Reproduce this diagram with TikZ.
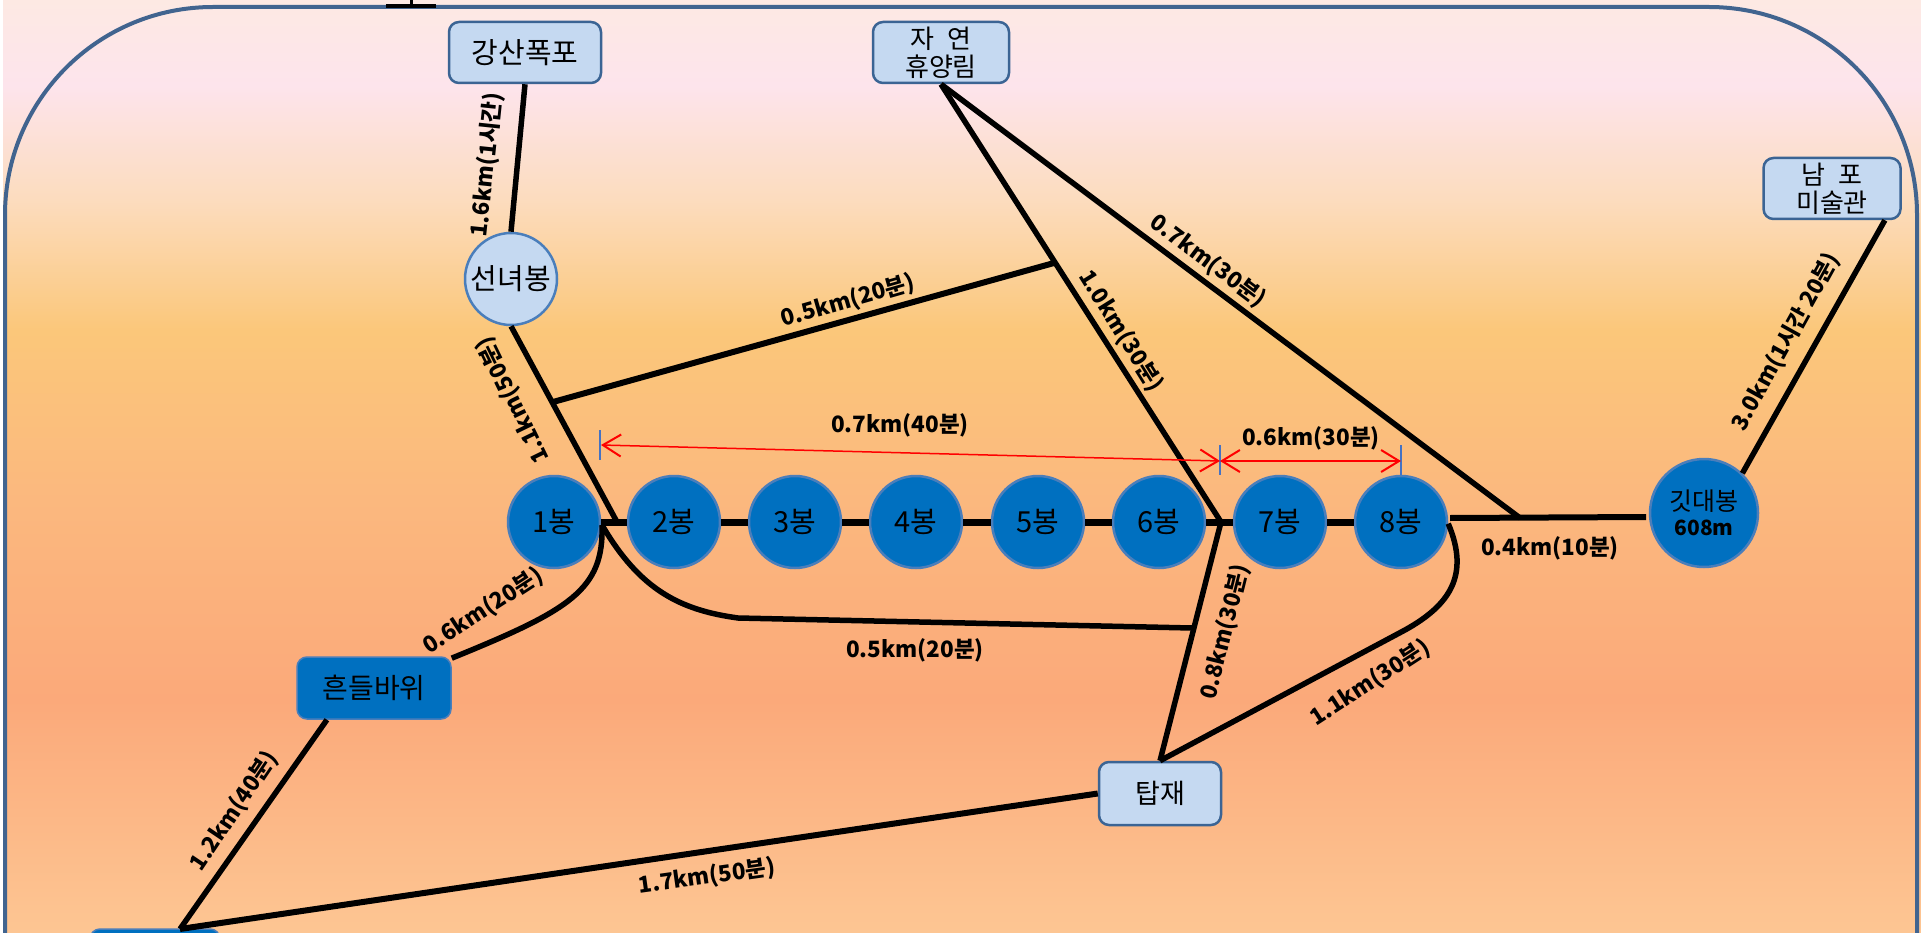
\documentclass[tikz,border=0pt]{standalone}
\usepackage{fontspec}
\setmainfont{Noto Sans CJK KR}
\usetikzlibrary{arrows.meta}

\definecolor{framecol}{HTML}{41648F}
\definecolor{lightcol}{HTML}{C5D9F1}
\definecolor{boxline}{HTML}{3B6494}
\definecolor{darkcol}{HTML}{0070C0}
\definecolor{ringcol}{HTML}{4A7EBB}
\definecolor{tickcol}{HTML}{4472C4}
\definecolor{bgA}{RGB}{253,198,147}
\definecolor{bgB}{RGB}{251,169,122}
\definecolor{bgC}{RGB}{251,184,126}
\definecolor{bgD}{RGB}{251,199,122}
\definecolor{bgE}{RGB}{252,220,190}
\definecolor{bgF}{RGB}{253,228,236}
\definecolor{bgG}{RGB}{253,233,227}

\pgfdeclareverticalshading{bgfade}{100bp}{
    color(0bp)=(bgA);
    color(25bp)=(bgA);
    color(37.5bp)=(bgB);
    color(48.2bp)=(bgC);
    color(57.3bp)=(bgD);
    color(64.3bp)=(bgE);
    color(70.4bp)=(bgF);
    color(75bp)=(bgG);
    color(100bp)=(bgG)}

\tikzset{
    peak/.style={circle,draw=ringcol,line width=2.5pt,fill=darkcol,minimum size=92pt,inner sep=0pt,align=center,font=\fontsize{29}{32}\selectfont},
    lightbox/.style={rectangle,rounded corners=10pt,draw=boxline,line width=2.5pt,fill=lightcol,inner sep=0pt,align=center,font=\fontsize{26}{28}\selectfont},
    darkbox/.style={rectangle,rounded corners=10pt,draw=ringcol,line width=1.5pt,fill=darkcol,inner sep=0pt,align=center,font=\fontsize{28}{30}\selectfont},
    distlabel/.style={font=\bfseries\fontsize{22.5}{26}\selectfont,inner sep=0pt},
    trail/.style={line width=5.5pt,black},
    redspan/.style={red,line width=2pt,<->,>={Straight Barb[length=18pt,width=22pt,line width=2pt]}},
    spantick/.style={tickcol,line width=1.5pt}
}

\begin{document}
\begin{tikzpicture}[x=1pt,y=-1pt]
    \useasboundingbox (0,0) rectangle (1921,933);
    \clip (0,0) rectangle (1921,933);
    \fill[white] (0,0) rectangle (1921,933);
    \shade[shading=bgfade] (3,0) rectangle (1921,933);
    \draw[framecol,line width=4pt,rounded corners=208pt] (5,1300) -- (5,7) -- (1917,7) -- (1917,1300);
    \draw[black,line width=4pt] (386,6) -- (436,6);
    \draw[black,line width=3pt] (411,0) -- (411,6);

    \node[lightbox,minimum width=152pt,minimum height=61pt,font=\fontsize{29}{32}\selectfont] (gangsan) at (525,52.5) {강산폭포};
    \node[lightbox,minimum width=136pt,minimum height=61pt] (jayeon) at (941,52.5) {자\hspace{0.5em}연\\휴양림};
    \node[lightbox,minimum width=137pt,minimum height=61pt] (nampo) at (1832,188.5) {남\hspace{0.5em}포\\미술관};
    \node[lightbox,minimum width=122pt,minimum height=63pt,font=\fontsize{27}{30}\selectfont] (tapjae) at (1160,793.5) {탑재};
    \node[darkbox,minimum width=154pt,minimum height=62pt] (heundeul) at (374,688) {흔들바위};
    \node[darkbox,minimum width=130pt,minimum height=60pt] (bottombox) at (155,959) {};
    \node[peak,fill=lightcol,font=\fontsize{29}{32}\selectfont] (seonnyeo) at (511,279) {선녀봉};

    \node[peak] (p1) at (554,522) {1봉};
    \node[peak] (p2) at (674,522) {2봉};
    \node[peak] (p3) at (795,522) {3봉};
    \node[peak] (p4) at (916,522) {4봉};
    \node[peak] (p5) at (1038,522) {5봉};
    \node[peak] (p6) at (1159,522) {6봉};
    \node[peak] (p7) at (1280,522) {7봉};
    \node[peak] (p8) at (1401,522) {8봉};
    \node[peak,minimum size=108pt,font=\fontsize{25}{26}\selectfont] (gitdae) at (1704,513) {깃대봉\\[-1pt]{\bfseries\fontsize{21}{24}\selectfont 608m}};

    \coordinate (j1) at (617,522);
    \coordinate (j1c) at (602,525);
    \coordinate (j6) at (1221,522);
    \coordinate (j8) at (1520,518);
    \coordinate (j8w) at (1450,518);
    \coordinate (j8e) at (1646,517);
    \coordinate (jb) at (180,929);
    \coordinate (b1) at (553,402);
    \coordinate (b2) at (1054,263);
    \coordinate (b3) at (738,618);
    \coordinate (b4) at (1192,628);

    \draw[trail] (gangsan.south) -- (seonnyeo.north);
    \draw[trail] (seonnyeo.-90) -- (j1);
    \draw[trail,line width=6pt] (b1) -- (b2);
    \draw[trail] (jayeon.south) -- (j6);
    \draw[trail] (jayeon.south) -- (j8);
    \draw[trail,line width=7pt] (p1.east) -- (p2.west);
    \draw[trail,line width=7pt] (p2.east) -- (p3.west);
    \draw[trail,line width=7pt] (p3.east) -- (p4.west);
    \draw[trail,line width=7pt] (p4.east) -- (p5.west);
    \draw[trail,line width=7pt] (p5.east) -- (p6.west);
    \draw[trail,line width=7pt] (p6.east) -- (p7.west);
    \draw[trail,line width=7pt] (p7.east) -- (p8.west);
    \draw[trail,line width=6pt] (j8w) -- (j8e);
    \draw[trail] (gitdae.46) -- (nampo.-31);
    \draw[trail] (j1c) .. controls (604,590) and (570,610) .. (heundeul.21);
    \draw[trail] (j1c) .. controls (640,590) and (680,610) .. (b3) -- (b4);
    \draw[trail] (j6) -- (tapjae.north);
    \draw[trail] (p8.-2) .. controls (1470,575) and (1450,605) .. (1405,630) -- (tapjae.north);
    \draw[trail,line width=6pt] (tapjae.west) -- (jb);
    \draw[trail] (heundeul.-146) -- (jb);

    \coordinate (s1) at (601,445);
    \coordinate (s2) at (1220,461);
    \coordinate (s3) at (1401,461);
    \draw[spantick] (600,430) -- (600,460);
    \draw[spantick] (1220,445) -- (1220,475);
    \draw[spantick] (1401,445) -- (1401,475);
    \draw[redspan,line width=1.5pt] (s1) -- (s2);
    \draw[redspan] (s2) -- (s3);

    \node[distlabel,rotate=84] (d1) at (487,165) {1.6km(1시간)};
    \node[distlabel,rotate=116] (d2) at (513,400) {1.1km(50분)};
    \node[distlabel,rotate=16] (d3) at (848,301) {0.5km(20분)};
    \node[distlabel,rotate=-58] (d4) at (1121,331) {1.0km(30분)};
    \node[distlabel,rotate=-37] (d5) at (1208,261) {0.7km(30분)};
    \node[distlabel] (d6) at (900,425) {0.7km(40분)};
    \node[distlabel] (d7) at (1311,438) {0.6km(30분)};
    \node[distlabel,rotate=61] (d8) at (1786,342) {3.0km(1시간 20분)};
    \node[distlabel] (d9) at (1550,548) {0.4km(10분)};
    \node[distlabel,rotate=33] (d10) at (483,611) {0.6km(20분)};
    \node[distlabel] (d11) at (915,650) {0.5km(20분)};
    \node[distlabel,rotate=76] (d12) at (1225,632) {0.8km(30분)};
    \node[distlabel,rotate=33] (d13) at (1370,683) {1.1km(30분)};
    \node[distlabel,rotate=56] (d14) at (234,811) {1.2km(40분)};
    \node[distlabel,rotate=8] (d15) at (707,877) {1.7km(50분)};
\end{tikzpicture}
\end{document}
